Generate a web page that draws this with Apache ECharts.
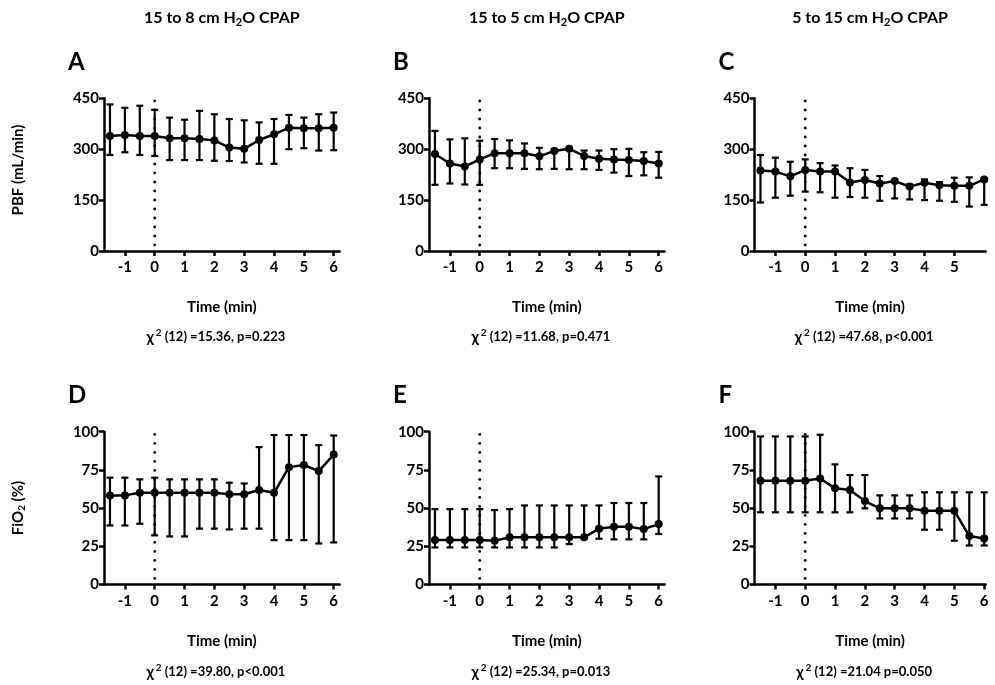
<!DOCTYPE html>
<html>
<head>
<meta charset="utf-8">
<script src="https://cdn.jsdelivr.net/npm/echarts@6/dist/echarts.min.js"></script>
<style>html,body{margin:0;padding:0;background:#fff;}#c{width:995px;height:685px;}</style>
</head>
<body>
<div id="c"></div>
<script>
const times = [-1.5,-1,-0.5,0,0.5,1,1.5,2,2.5,3,3.5,4,4.5,5,5.5,6];
const xTicks = [-1,0,1,2,3,4,5,6];
const xTicksC = [-1,0,1,2,3,4,5];
const switchTime = [0];
const colTitles = ['15 to 8 cm H', '15 to 5 cm H', '5 to 15 cm H'];
const panelLetters = ['A','B','C','D','E','F'];
const chiTexts = ['(12) =15.36, p=0.223','(12) =11.68, p=0.471','(12) =47.68, p<0.001',
                  '(12) =39.80, p<0.001','(12) =25.34, p=0.013','(12) =21.04 p=0.050'];

const meanA = [339,342,339,339,332,332,330,326,305,301,327,344,363,362,362,363];
const hiA   = [432,422,428,416,393,387,413,403,389,385,379,389,401,393,403,408];
const loA   = [283,291,283,280,268,268,268,266,265,261,257,257,300,303,296,297];

const meanB = [286,258,249,270,288,288,288,279,295,301,280,272,270,268,265,258];
const hiB   = [354,329,332,325,330,326,317,304,301,305,296,296,300,301,291,292];
const loB   = [195,199,196,195,244,244,242,241,242,241,241,239,231,221,223,216];

const meanC = [237,234,220,239,234,234,202,209,199,206,190,201,194,192,192,211];
const hiC   = [283,275,263,270,259,252,244,239,221,211,196,211,203,216,217,214];
const loC   = [143,157,163,175,173,157,159,157,148,155,152,150,148,145,131,136];

const meanD = [58.3,58.3,60,60,60,60,60,60,59,59,61.8,60,76.8,78.2,74.2,85];
const hiD   = [69.9,69.9,68.8,69.9,68.8,68.8,68.8,68.8,66.6,66.1,89.9,97.8,97.8,97.8,91.2,97.5];
const loD   = [38.6,38.6,39.7,32.1,31.4,31.4,36.5,36.5,36,36.5,36.5,29,29,29,26.8,27.5];

const meanE = [29,29,29,29,28.6,30.8,30.8,30.8,30.8,30.8,30.8,36.5,37.8,37.8,36.2,39.5];
const hiE   = [49.3,49.3,49.3,49.3,48.7,49.3,51.7,51.7,51.7,51.7,51.7,51.7,53.3,53.3,53.3,70.7];
const loE   = [24.2,24.2,24.2,24.2,24.2,24.2,24.2,24.2,24.2,26.4,30.8,29.9,29.5,29.5,29.5,33];

const meanF = [67.9,67.9,67.9,67.9,69.4,62.9,61.8,54.6,49.8,49.8,49.8,48.2,48.2,48.2,31.7,30.1];
const hiF   = [96.9,96.9,96.9,96.9,98,78.6,71.6,71.6,58.3,58.3,58.3,60.3,60.3,60.3,60.3,60.3];
const loF   = [47.2,47.2,47.2,47.2,47.2,47.2,47.2,49.8,43.2,43.2,43.2,35.8,35.8,28.6,25.5,25.5];

const panels = [
  {mean: meanA, hi: hiA, lo: loA, top: true, ticks: xTicks},
  {mean: meanB, hi: hiB, lo: loB, top: true, ticks: xTicks},
  {mean: meanC, hi: hiC, lo: loC, top: true, ticks: xTicksC},
  {mean: meanD, hi: hiD, lo: loD, top: false, ticks: xTicks},
  {mean: meanE, hi: hiE, lo: loE, top: false, ticks: xTicks},
  {mean: meanF, hi: hiF, lo: loF, top: false, ticks: xTicks}
];

const FONT = 'Lato';
const colLeft = [104, 429, 754.5];
const pxPerMin = 29.83;
const xMin = -1.7;

const chart = echarts.init(document.getElementById('c'));
const grids = [], xAxes = [], yAxes = [], series = [], graphics = [];

panels.forEach((p, i) => {
  const col = i % 3;
  const xMax = (col === 2) ? 6.05 : 6.2;
  const yMax = p.top ? 450 : 100;
  const left = colLeft[col];
  const width = (xMax - xMin) * pxPerMin;
  const top = p.top ? 98.3 : 431.7;
  const height = 152.7;
  grids.push({left: left, top: top, width: width, height: height, containLabel: false});
  xAxes.push({
    type: 'value', gridIndex: i, min: xMin, max: xMax,
    axisLine: {show: true, onZero: false, lineStyle: {color: '#000', width: 2.5}},
    axisTick: {show: true, length: 5, lineStyle: {color: '#000', width: 2.5}, customValues: p.ticks},
    axisLabel: {color: '#000', fontFamily: FONT, fontWeight: 'bold', fontSize: 15, margin: 9, customValues: p.ticks},
    splitLine: {show: false},
    name: 'Time (min)', nameLocation: 'middle', nameGap: 49,
    nameTextStyle: {color: '#000', fontFamily: FONT, fontWeight: 'bold', fontSize: 15}
  });
  yAxes.push({
    type: 'value', gridIndex: i, min: 0, max: yMax, interval: p.top ? 150 : 25,
    axisLine: {show: true, onZero: false, lineStyle: {color: '#000', width: 2.5}},
    axisTick: {show: true, length: 5, lineStyle: {color: '#000', width: 2.5}},
    axisLabel: {color: '#000', fontFamily: FONT, fontWeight: 'bold', fontSize: 15, margin: 5},
    splitLine: {show: false}
  });
  // dotted vertical line at the switch time, drawn as a column of small dots
  series.push({
    type: 'custom', xAxisIndex: i, yAxisIndex: i, z: 1, silent: true,
    data: switchTime.map(t => [t, 0, yMax]),
    encode: {x: 0, y: [1, 2]},
    renderItem: function (params, api) {
      const a = api.coord([api.value(0), api.value(1)]);
      const b = api.coord([api.value(0), api.value(2)]);
      const dots = [];
      for (let y = a[1] - 6; y >= b[1] - 1; y -= 9) {
        dots.push({type: 'circle', shape: {cx: a[0], cy: y, r: 1.4}, style: {fill: '#000'}});
      }
      return {type: 'group', children: dots};
    }
  });
  const errData = times.map((t, k) => [t, p.lo[k], p.hi[k]]);
  series.push({
    type: 'custom', xAxisIndex: i, yAxisIndex: i, data: errData, z: 2,
    encode: {x: 0, y: [1, 2]},
    renderItem: function (params, api) {
      const x = api.value(0);
      const a = api.coord([x, api.value(1)]);
      const b = api.coord([x, api.value(2)]);
      const hw = 3.5;
      const st = {stroke: '#000', lineWidth: 2.2};
      return {type: 'group', children: [
        {type: 'line', shape: {x1: a[0], y1: a[1], x2: b[0], y2: b[1]}, style: st},
        {type: 'line', shape: {x1: a[0]-hw, y1: a[1], x2: a[0]+hw, y2: a[1]}, style: st},
        {type: 'line', shape: {x1: b[0]-hw, y1: b[1], x2: b[0]+hw, y2: b[1]}, style: st}
      ]};
    }
  });
  series.push({
    type: 'line', xAxisIndex: i, yAxisIndex: i, z: 3,
    data: times.map((t, k) => [t, p.mean[k]]),
    symbol: 'circle', symbolSize: 8,
    itemStyle: {color: '#000'},
    lineStyle: {color: '#000', width: 2.5},
    animation: false
  });
  graphics.push({type: 'text', x: left - 36, y: top - 36,
    style: {text: panelLetters[i], font: 'bold 24px ' + FONT, fill: '#000', align: 'left', verticalAlign: 'middle'}});
  const cx = left + width / 2 - 6;
  const cy = p.top ? 337 : 672;
  graphics.push({type: 'text', x: cx, y: cy,
    style: {text: '{c|χ}{s|2}{t| ' + chiTexts[i] + '}', align: 'center', verticalAlign: 'middle',
      rich: {
        c: {font: 'bold 15px ' + FONT, fill: '#000'},
        s: {font: 'bold 10px ' + FONT, fill: '#000', padding: [0, 0, 8, 2]},
        t: {font: 'bold 13px ' + FONT, fill: '#000'}
      }}});
  if (p.top) {
    graphics.push({type: 'text', x: left + width / 2, y: 18,
      style: {text: '{a|' + colTitles[col] + '}{s|2}{a|O CPAP}', align: 'center', verticalAlign: 'middle',
        rich: {
          a: {font: 'bold 16px ' + FONT, fill: '#000'},
          s: {font: 'bold 11px ' + FONT, fill: '#000', padding: [8, 0, 0, 0]}
        }}});
  }
});

graphics.push({type: 'text', x: 18, y: 170, rotation: Math.PI / 2,
  style: {text: 'PBF (mL/min)', font: 'bold 15px ' + FONT, fill: '#000', align: 'center', verticalAlign: 'middle'}});
graphics.push({type: 'text', x: 18, y: 508, rotation: Math.PI / 2,
  style: {text: '{a|FiO}{s|2}{a| (%)}', align: 'center', verticalAlign: 'middle',
    rich: {
      a: {font: 'bold 15px ' + FONT, fill: '#000'},
      s: {font: 'bold 10px ' + FONT, fill: '#000', padding: [7, 0, 0, 0]}
    }}});

chart.setOption({
  animation: false,
  backgroundColor: '#fff',
  grid: grids, xAxis: xAxes, yAxis: yAxes, series: series, graphic: graphics
});
</script>
</body>
</html>
